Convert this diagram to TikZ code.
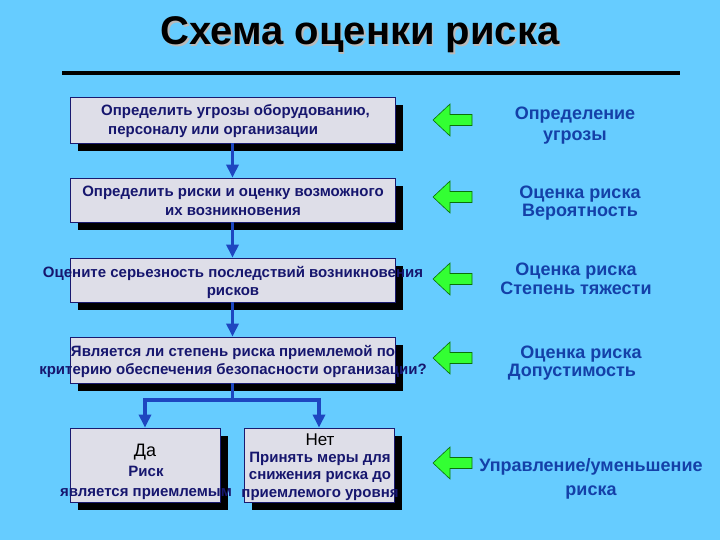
\documentclass[tikz,border=0pt]{standalone}
\usepackage{fontspec}
\setmainfont{Liberation Sans}
\usetikzlibrary{arrows.meta,shadows}
\definecolor{bgblue}{HTML}{66CCFF}
\definecolor{boxfill}{HTML}{DEDEE8}
\definecolor{boxdraw}{HTML}{1A1A70}
\definecolor{boxtext}{HTML}{16166E}
\definecolor{flowblue}{HTML}{1E46C0}
\definecolor{labelblue}{HTML}{1440A8}
\definecolor{arrgreen}{HTML}{33FF33}
\definecolor{arrdraw}{HTML}{0A700A}
\tikzset{
  box/.style={draw=boxdraw, line width=0.8pt, fill=boxfill, inner sep=0pt,
    drop shadow={shadow xshift=8pt, shadow yshift=-8pt, fill=black, opacity=1}},
  btext/.style={text=boxtext, font=\bfseries\fontsize{15}{18.5}\selectfont, align=center, inner sep=0pt},
  rlabel/.style={text=labelblue, font=\bfseries\fontsize{18}{18.5}\selectfont, align=center, inner sep=0pt},
  flow/.style={draw=flowblue, line width=3.2pt, -{Triangle[length=13pt,width=12pt]}},
  flowline/.style={draw=flowblue, line width=3.2pt},
  garrow/.style={fill=arrgreen, draw=arrdraw, line width=0.6pt, line join=miter}
}
\begin{document}
\begin{tikzpicture}[x=1pt,y=-1pt]
\fill[bgblue] (0,0) rectangle (720,540);
\useasboundingbox (0,0) rectangle (720,540);

% title
\node[text=gray!55, font=\bfseries\fontsize{40}{44}\selectfont, inner sep=0pt] (titleshadow) at (361.5,36.5) {Схема оценки риска};
\node[text=black, font=\bfseries\fontsize{40}{44}\selectfont, inner sep=0pt] (title) at (360,35) {Схема оценки риска};
\coordinate (rl) at (62,73);
\coordinate (rr) at (680,73);
\draw[line width=4.5pt] (rl) -- (rr);

% boxes
\node[box, minimum width=325pt, minimum height=46pt] (b1) at (232.5,120) {};
\node[box, minimum width=325pt, minimum height=44pt] (b2) at (232.5,200) {};
\node[box, minimum width=325pt, minimum height=44pt] (b3) at (232.5,280) {};
\node[box, minimum width=325pt, minimum height=46pt] (b4) at (232.5,360) {};
\node[box, minimum width=150pt, minimum height=74pt] (b5) at (145,465) {};
\node[box, minimum width=150pt, minimum height=74pt] (b6) at (319,465) {};

% flow arrows
\draw[flow] (b1.south) -- (b2.north);
\draw[flow] (b2.south) -- (b3.north);
\draw[flow] (b3.south) -- (b4.north);
\coordinate (split) at (232.5,400);
\draw[flowline] (b4.south) -- (split);
\draw[flow] (split) -| (b5.north);
\draw[flow] (split) -| (b6.north);

% box texts
\node[btext, align=left, anchor=west] (t1) at (101,121) {Определить угрозы оборудованию,\\\hspace{7pt}персоналу или организации};
\node[btext] (t2) at (233,201) {Определить риски и оценку возможного\\их возникновения};
\node[btext] (t3) at (233,282.5) {Оцените серьезность последствий возникновения\\рисков};
\node[btext] (t4) at (233,361.5) {Является ли степень риска приемлемой по\\критерию обеспечения безопасности организации?};
\node[text=black, font=\fontsize{18}{20}\selectfont, inner sep=0pt] (da) at (145,452) {Да};
\node[btext, font=\bfseries\fontsize{15}{20}\selectfont] (t5) at (146,483) {Риск\\является приемлемым};
\node[text=black, font=\fontsize{17}{20}\selectfont, inner sep=0pt] (net) at (320,440) {Нет};
\node[btext, font=\bfseries\fontsize{15}{17.5}\selectfont] (t6) at (320,476) {Принять меры для\\снижения риска до\\приемлемого уровня};

% green arrows
\foreach \yy in {120,197,279,358,463}{
  \draw[garrow] (433,\yy) -- (450,\yy-16) -- (450,\yy-5.5) -- (472,\yy-5.5) -- (472,\yy+5.5) -- (450,\yy+5.5) -- (450,\yy+16) -- cycle;
}

% right labels
\node[rlabel, font=\bfseries\fontsize{18}{21}\selectfont] (r1) at (575,125.5) {Определение\\угрозы};
\node[rlabel] (r2) at (580,203) {Оценка риска\\Вероятность};
\node[rlabel] (r3) at (576,279) {Оценка риска\\Степень тяжести};
\node[rlabel] (r4) at (572,363) {\hspace{18pt}Оценка риска\\Допустимость};
\node[rlabel, font=\bfseries\fontsize{18}{24}\selectfont] (r5) at (591,479) {Управление/уменьшение\\риска};
\end{tikzpicture}
\end{document}
